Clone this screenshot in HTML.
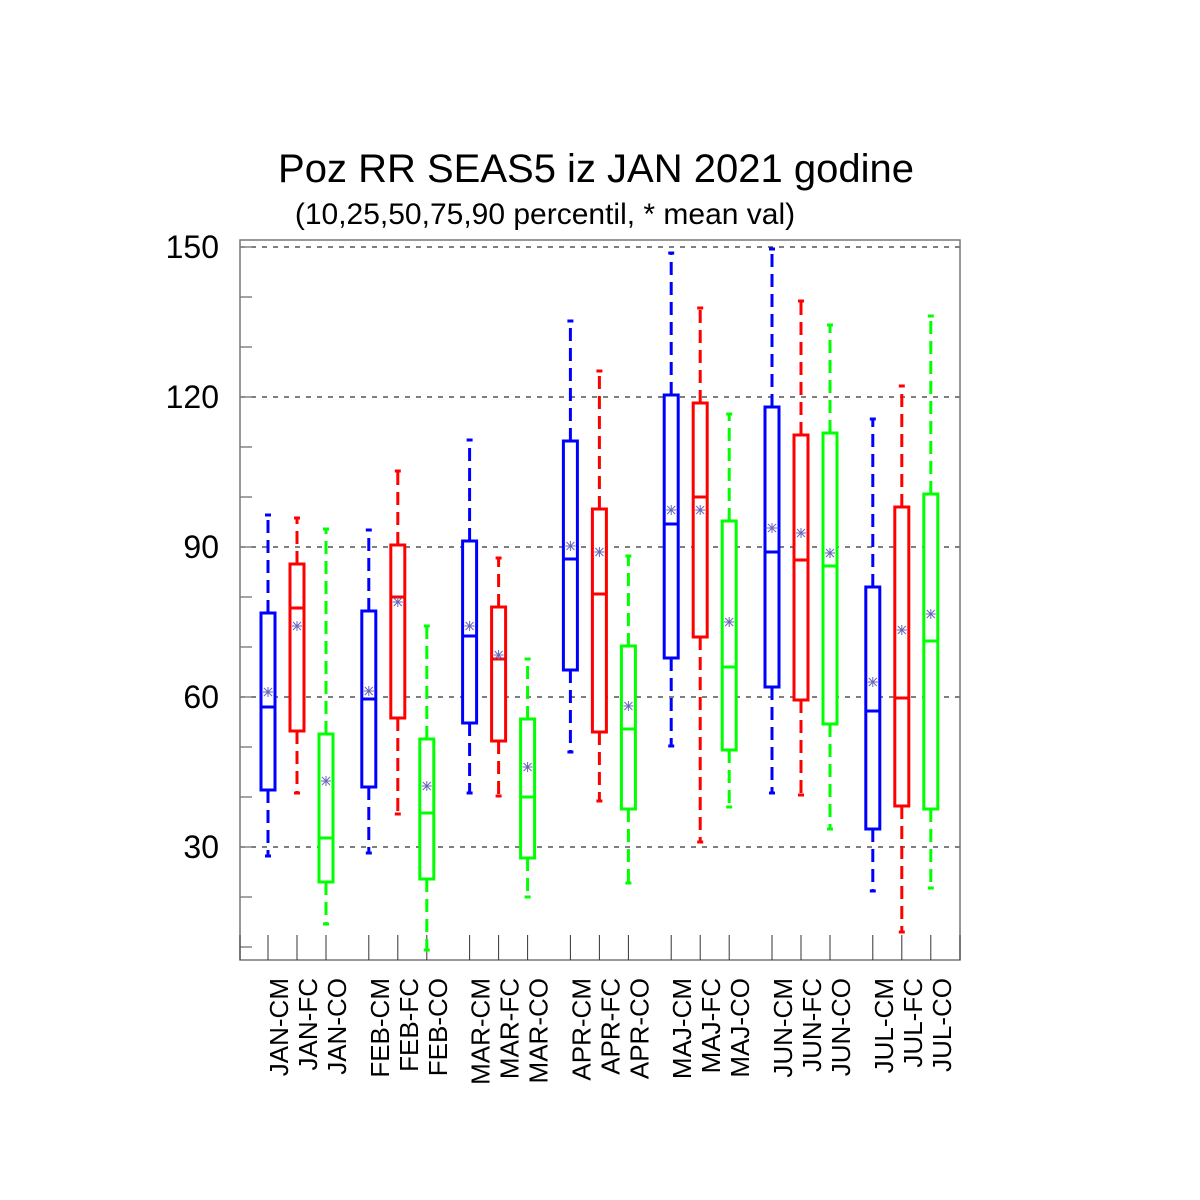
<!DOCTYPE html>
<html><head><meta charset="utf-8"><style>
html,body{margin:0;padding:0;background:#fff}
svg{display:block;font-family:"Liberation Sans",sans-serif}
</style></head><body>
<svg id="chart" width="1200" height="1200" viewBox="0 0 1200 1200">
<text x="596" y="182" font-size="40" text-anchor="middle">Poz RR SEAS5 iz JAN 2021 godine</text>
<text x="545" y="224" font-size="30" text-anchor="middle">(10,25,50,75,90 percentil, * mean val)</text>
<g id="grid"></g><g id="axes"></g><g id="boxes"></g>
</svg>
<script>
const categories=["JAN-CM","JAN-FC","JAN-CO","FEB-CM","FEB-FC","FEB-CO","MAR-CM","MAR-FC","MAR-CO","APR-CM","APR-FC","APR-CO","MAJ-CM","MAJ-FC","MAJ-CO","JUN-CM","JUN-FC","JUN-CO","JUL-CM","JUL-FC","JUL-CO"];
const p10=[28.2,40.8,14.6,28.8,36.6,9.4,40.8,40.2,20,49,39.2,22.8,50.2,31,38,40.8,40.4,33.6,21.2,13,21.8];
const p25=[41.4,53.2,23,42,55.8,23.6,54.8,51.2,27.8,65.4,53,37.6,67.8,72,49.4,62,59.4,54.6,33.6,38.2,37.6];
const p50=[58,77.8,31.8,59.6,80,36.8,72.2,67.6,40,87.6,80.6,53.6,94.6,100,66,89,87.4,86.2,57.2,59.8,71.2];
const p75=[76.8,86.6,52.6,77.2,90.4,51.6,91.2,78,55.6,111.2,97.6,70.2,120.4,118.8,95.2,118,112.4,112.8,82,98,100.6];
const p90=[96.4,95.8,93.6,93.4,105.2,74.2,111.4,87.8,67.6,135.2,125.2,88.2,148.8,137.8,116.6,149.6,139.2,134.4,115.6,122.2,136.2];
const means=[61,74.2,43.2,61.2,79,42.2,74.2,68.4,46,90.2,89,58.2,97.4,97.4,75,93.8,92.8,88.8,63,73.4,76.6];
const yTicks=[30,60,90,120,150];
const colors=["#0000ff","#ff0000","#00ff00"];
const NS="http://www.w3.org/2000/svg";
const L=240,R=960,T=240,B=960;
function y(v){return 847-(v-30)*5;}
function x(i){const g=Math.floor(i/3),m=i%3;return 268+g*100.8+m*29;}
function mk(tag,attrs,parent){const e=document.createElementNS(NS,tag);for(const k in attrs)e.setAttribute(k,attrs[k]);parent.appendChild(e);return e;}
const grid=document.getElementById('grid'),axes=document.getElementById('axes'),boxes=document.getElementById('boxes');
yTicks.forEach(v=>{
 const g=mk('line',{x1:L,x2:R,y1:y(v),y2:y(v),stroke:'#333','stroke-width':1.2,'stroke-dasharray':'5,6'},grid);
 
 
 const t=mk('text',{x:219,y:y(v)+11,'font-size':32,'text-anchor':'end'},axes);
 t.textContent=v;
 
 
});
for(let v=10;v<=150;v+=10){
 const tk=mk('line',{x1:L,x2:L+12,y1:y(v),y2:y(v),stroke:'#666','stroke-width':1.2},axes);
 
 
}
const frame=mk('rect',{x:L,y:T,width:R-L,height:B-T,fill:'none',stroke:'#777','stroke-width':1.5},axes);


[L,R].forEach(px=>{const tk=mk('line',{x1:px,x2:px,y1:B-25,y2:B,stroke:'#333','stroke-width':1},axes);
 
 });
categories.forEach((c,i)=>{
 const cx=x(i),col=colors[i%3],w=7;
 const tk=mk('line',{x1:cx,x2:cx,y1:B-25,y2:B,stroke:'#333','stroke-width':1},axes);
 
 
 const lb=mk('text',{x:0,y:0,'font-size':26,'text-anchor':'end',transform:`translate(${cx+20},978) rotate(-90)`},axes);
 lb.textContent=c;
 
 
 const g=mk('g',{stroke:col,'stroke-width':3,fill:'none'},boxes);
 
 
 mk('line',{x1:cx,x2:cx,y1:y(p75[i]),y2:y(p90[i]),'stroke-dasharray':'13,7'},g);
 mk('line',{x1:cx,x2:cx,y1:y(p25[i]),y2:y(p10[i]),'stroke-dasharray':'13,7'},g);
 mk('line',{x1:cx-3,x2:cx+3,y1:y(p90[i]),y2:y(p90[i])},g);
 mk('line',{x1:cx-3,x2:cx+3,y1:y(p10[i]),y2:y(p10[i])},g);
 mk('rect',{x:cx-w,y:y(p75[i]),width:2*w,height:y(p25[i])-y(p75[i]),fill:'#fff'},g);
 mk('line',{x1:cx-w,x2:cx+w,y1:y(p50[i]),y2:y(p50[i])},g);
 const my=y(means[i]),s=5;
 const m=mk('g',{stroke:'#6666bb','stroke-width':1},boxes);
 
 
 mk('line',{x1:cx-s,x2:cx+s,y1:my,y2:my},m);
 mk('line',{x1:cx,x2:cx,y1:my-s,y2:my+s},m);
 mk('line',{x1:cx-4,x2:cx+4,y1:my-4,y2:my+4},m);
 mk('line',{x1:cx-4,x2:cx+4,y1:my+4,y2:my-4},m);
});
</script>
</body></html>
